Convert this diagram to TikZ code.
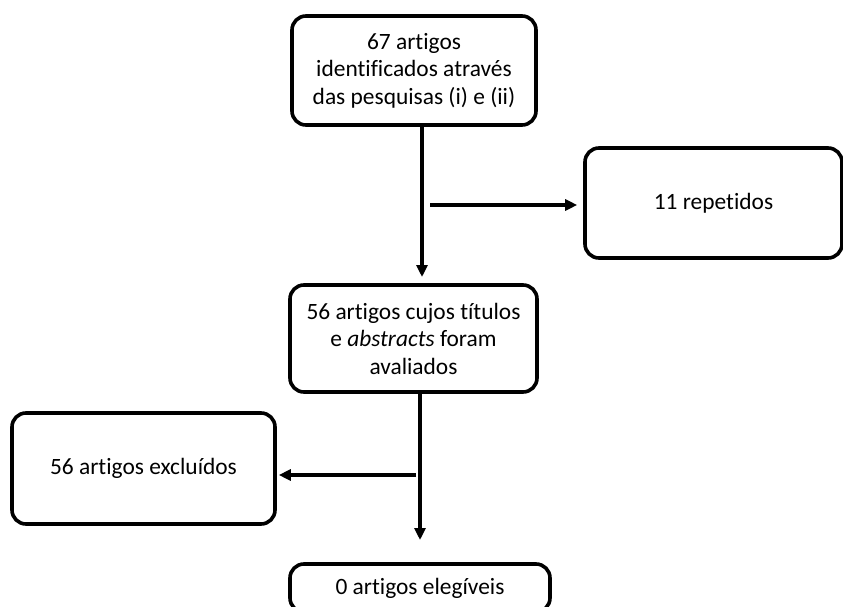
\documentclass[tikz,border=0pt]{standalone}
\usepackage{fontspec}
\setmainfont{Carlito}[Ligatures=NoCommon]
\usetikzlibrary{arrows.meta}
\begin{document}
\begin{tikzpicture}[x=1pt,y=-1pt,
  box/.style={draw, line width=3.6pt, rounded corners=14pt, align=center,
    inner sep=0pt, font=\fontsize{23.4}{27.5}\selectfont},
  flow/.style={line width=3.2pt, -{Triangle[length=12pt,width=11pt]}}]
\useasboundingbox (0,0) rectangle (843,607);
\clip (0,0) rectangle (843,607);

% boxes of the selection flow
\node[box, minimum width=244pt, minimum height=109pt] (b1) at (414,70.5)
  {67 artigos\\identificados através\\das pesquisas (i) e (ii)};
\node[box, minimum width=247pt, minimum height=107pt] (b2) at (413.5,338.5)
  {56 artigos cujos títulos\\e \textit{abstracts} foram\\avaliados};
\node[box, minimum width=257pt, minimum height=110pt] (rep) at (713.5,203)
  {11 repetidos};
\node[box, minimum width=263pt, minimum height=111pt] (exc) at (143.5,468.5)
  {56 artigos excluídos};
\node[box, minimum width=260pt, minimum height=48pt] (fin) at (420,588)
  {0 artigos elegíveis};

% connectors
\coordinate (t1) at (422,277);
\draw[flow] (b1.south -| t1) -- (t1);
\coordinate (r0) at (430,205);
\draw[flow, shorten >=6pt] (r0) -- (r0 -| rep.west);
\coordinate (t2) at (420,540);
\draw[flow] (b2.south -| t2) -- (t2);
\coordinate (l0) at (416,475);
\draw[flow, shorten >=2pt] (l0) -- (l0 -| exc.east);
\end{tikzpicture}
\end{document}
